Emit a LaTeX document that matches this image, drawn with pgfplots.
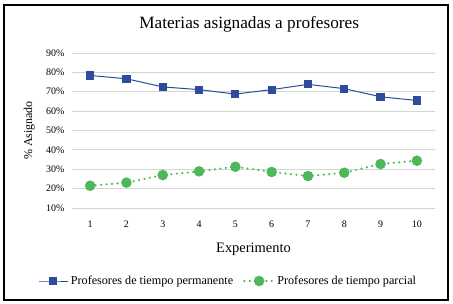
\documentclass[border=0pt]{standalone}
\usepackage{fontspec}
\setmainfont{Liberation Serif}
\usepackage{pgfplots}
\pgfplotsset{compat=1.18}
\definecolor{cblue}{HTML}{2F4B9C}
\definecolor{cgreen}{HTML}{4DB85A}
\begin{document}
\begin{tikzpicture}
\useasboundingbox (-72bp,-96bp) rectangle (381bp,208bp);
\draw[line width=1.2bp] (-68bp,-92bp) rectangle (376bp,203bp);
\begin{axis}[at={(0,0)}, anchor=south west, scale only axis,
  width=363bp, height=155bp,
  xmin=0.5, xmax=10.5, ymin=10, ymax=90,
  xtick={1,...,10}, ytick={10,20,...,90},
  yticklabels={10\%,20\%,30\%,40\%,50\%,60\%,70\%,80\%,90\%},
  ymajorgrids, grid style={draw=black!17, line width=0.9pt},
  axis line style={draw=none}, major tick length=0pt,
  /pgf/number format/assume math mode=true,
  tick label style={font=\fontsize{10}{12}\selectfont},
  xticklabel style={yshift=-9bp},
  yticklabel style={xshift=-4bp},
  xlabel={Experimento}, ylabel={\% Asignado},
  xlabel style={at={(axis description cs:0.5,-0.265)}, anchor=center, font=\fontsize{14.5}{16}\selectfont},
  ylabel style={at={(axis description cs:-0.118,0.5)}, anchor=center, font=\fontsize{12}{14}\selectfont},
  title={Materias asignadas a profesores},
  title style={at={(axis description cs:0.488,1.148)}, anchor=center, font=\fontsize{17.3}{20}\selectfont},
  legend style={at={(axis description cs:0.43,-0.471)}, anchor=center, draw=none,
    font=\fontsize{12.2}{14}\selectfont, legend columns=2,
    /tikz/every even column/.append style={column sep=8bp}},
  legend image code/.code={\draw[mark repeat=2,mark phase=2] plot coordinates {(0cm,0cm)(0.52cm,0cm)(1.05cm,0cm)};},
  clip=false]
\addplot[cblue, line width=1pt, mark=square*, mark size=3.6bp, mark options={solid}] coordinates {
(1,78.4)(2,76.7)(3,72.5)(4,71.1)(5,68.8)(6,71.1)(7,73.8)(8,71.6)(9,67.4)(10,65.5)};
\addlegendentry{Profesores de tiempo permanente}
\addplot[cgreen, line width=2.4pt, line cap=round, dash pattern=on 0pt off 5.5pt, mark=*, mark size=4bp, mark options={solid}] coordinates {
(1,21.5)(2,23.1)(3,27.0)(4,28.9)(5,31.3)(6,28.6)(7,26.5)(8,28.2)(9,32.7)(10,34.4)};
\addlegendentry{Profesores de tiempo parcial}
\end{axis}
\end{tikzpicture}
\end{document}
